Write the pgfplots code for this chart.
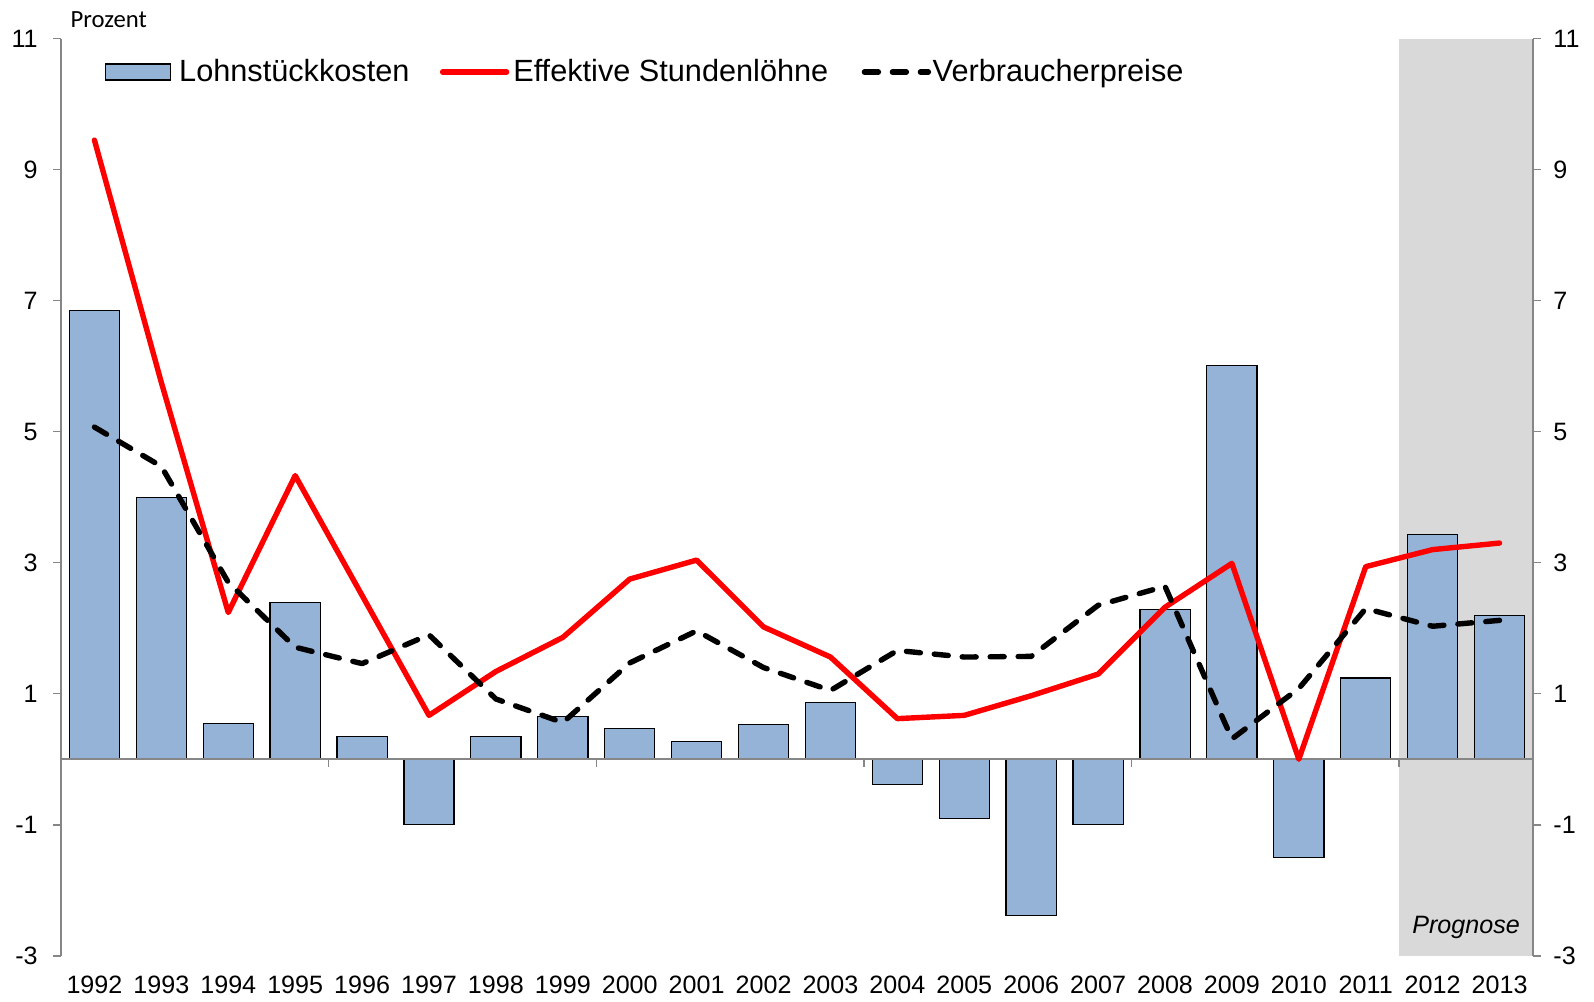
\documentclass[border=0pt]{standalone}
\usepackage{pgfplots}
\pgfplotsset{compat=1.18}
\usepackage{fontspec}
\setmainfont{Liberation Sans}
\newfontfamily\calibri{Carlito}
\definecolor{barblue}{HTML}{95B3D7}
\definecolor{axgray}{HTML}{868686}
\definecolor{proggray}{HTML}{D9D9D9}
\definecolor{lred}{HTML}{FF0000}
\pgfplotsset{
  lineleg/.style={legend image code/.code={\draw[##1] (0bp,0bp) -- (32bp,0bp);}},
  barleg/.style={legend image code/.code={\draw[fill=barblue, draw=black, line width=0.7bp] (0bp,-4bp) rectangle (32.5bp,4bp);}},
}
\begin{document}
\begin{tikzpicture}
\path[use as bounding box] (-30.5bp,-22.9bp) rectangle (766.5bp,477.9bp);
\begin{axis}[
  at={(0,0)}, anchor=south west,
  scale only axis, width=736bp, height=458.6bp,
  xmin=-0.5, xmax=21.5, ymin=-3, ymax=11,
  clip=false,
  axis y line*=left, axis x line*=bottom,
  x axis line style={draw=none},
  y axis line style={draw=axgray, line width=0.75bp},
  ytick={-3,-1,1,3,5,7,9,11},
  yticklabels={-3,-1,1,3,5,7,9,11},
  xtick={0,...,21},
  xticklabels={1992,1993,1994,1995,1996,1997,1998,1999,2000,2001,2002,2003,2004,2005,2006,2007,2008,2009,2010,2011,2012,2013},
  tick align=outside,
  major tick length=3.8bp,
  x tick style={draw=none},
  y tick style={draw=axgray, line width=0.75bp},
  tick label style={font=\fontsize{12.6}{15}\selectfont},
  yticklabel style={inner sep=0pt, anchor=east, xshift=-7.7bp},
  xticklabel style={inner sep=0pt, anchor=north, yshift=-6.2bp},
  legend columns=3,
  legend cell align=left,
  legend style={draw=none, fill=none, inner sep=0pt, outer sep=0pt,
    at={(axis description cs:0.02976,0.9635)}, anchor=west,
    font=\fontsize{15.4}{18}\selectfont, column sep=0pt,
    nodes={inner sep=0pt}},
]
\fill[proggray] (axis cs:19.5,-3) rectangle (axis cs:21.5,11);

\addplot[ybar, bar width=0.75, fill=barblue, draw=black, line width=0.6bp, barleg]
  coordinates {(0,6.85) (1,4.0) (2,0.55) (3,2.39) (4,0.35) (5,-1.0) (6,0.35) (7,0.65) (8,0.47) (9,0.27) (10,0.53) (11,0.87) (12,-0.39) (13,-0.9) (14,-2.38) (15,-1.0) (16,2.28) (17,6.01) (18,-1.5) (19,1.24) (20,3.43) (21,2.19)};
\addlegendentry{\hspace*{4bp}Lohnstückkosten\hspace*{15.2bp}\mbox{}}

\draw[axgray, line width=1bp] (axis cs:-0.5,0) -- (axis cs:21.5,0);
\draw[axgray, line width=0.75bp] (axis cs:3.5,0) -- ([yshift=-4bp]axis cs:3.5,0);
\draw[axgray, line width=0.75bp] (axis cs:7.5,0) -- ([yshift=-4bp]axis cs:7.5,0);
\draw[axgray, line width=0.75bp] (axis cs:11.5,0) -- ([yshift=-4bp]axis cs:11.5,0);
\draw[axgray, line width=0.75bp] (axis cs:15.5,0) -- ([yshift=-4bp]axis cs:15.5,0);
\draw[axgray, line width=0.75bp] (axis cs:19.5,0) -- ([yshift=-4bp]axis cs:19.5,0);

\addplot[lred, line width=2.7bp, line join=round, line cap=round, lineleg]
  coordinates {(0,9.45) (1,5.75) (2,2.24) (3,4.33) (4,2.5) (5,0.67) (6,1.34) (7,1.86) (8,2.75) (9,3.04) (10,2.02) (11,1.56) (12,0.62) (13,0.67) (14,0.97) (15,1.30) (16,2.32) (17,2.99) (18,0.0) (19,2.94) (20,3.20) (21,3.30)};
\addlegendentry{\hspace*{2bp}Effektive Stundenlöhne\hspace*{16.7bp}\mbox{}}

\addplot[black, line width=2.7bp, line join=round, line cap=round, dash pattern=on 7bp off 7bp, lineleg]
  coordinates {(0,5.07) (1,4.47) (2,2.7) (3,1.71) (4,1.46) (5,1.90) (6,0.92) (7,0.56) (8,1.47) (9,1.96) (10,1.40) (11,1.05) (12,1.66) (13,1.56) (14,1.57) (15,2.35) (16,2.64) (17,0.31) (18,1.08) (19,2.30) (20,2.03) (21,2.12)};
\addlegendentry{\hspace*{0.8bp}Verbraucherpreise}

\node[font=\itshape\fontsize{12.6}{15}\selectfont] at (axis cs:20.5,-2.56) {Prognose};
\node[anchor=base west, inner sep=0pt, font=\calibri\fontsize{12.4}{14}\selectfont] at ([xshift=4.6bp,yshift=5.6bp]rel axis cs:0,1) {Prozent};
\end{axis}
\begin{axis}[
  at={(0,0)}, anchor=south west,
  scale only axis, width=736bp, height=458.6bp,
  xmin=-0.5, xmax=21.5, ymin=-3, ymax=11,
  axis y line*=right, axis x line=none,
  y axis line style={draw=axgray, line width=0.75bp},
  ytick={-3,-1,1,3,5,7,9,11},
  yticklabels={-3,-1,1,3,5,7,9,11},
  tick align=outside,
  major tick length=3.8bp,
  y tick style={draw=axgray, line width=0.75bp},
  tick label style={font=\fontsize{12.6}{15}\selectfont},
  yticklabel style={inner sep=0pt, anchor=west, xshift=6.2bp},
]
\end{axis}
\end{tikzpicture}
\end{document}
